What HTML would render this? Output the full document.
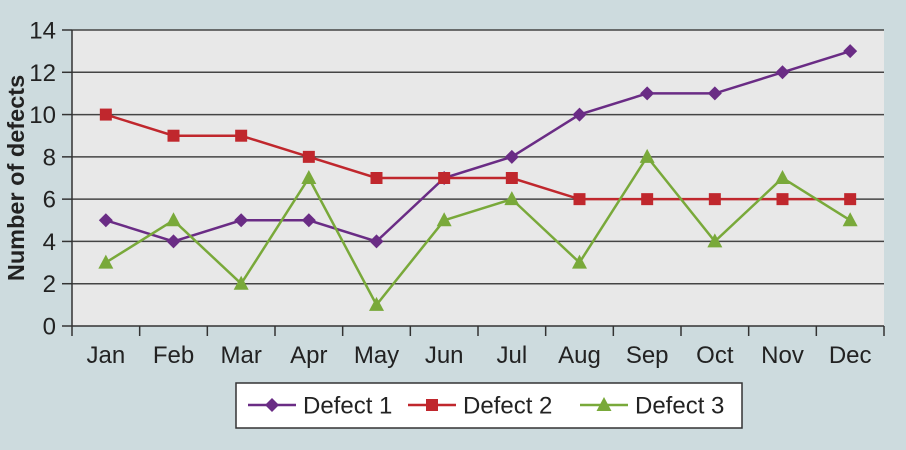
<!DOCTYPE html>
<html><head><meta charset="utf-8"><style>
html,body{margin:0;padding:0;background:#cddbde;}
svg{display:block;font-family:"Liberation Sans",sans-serif;}
</style></head><body>
<svg id="chart" width="906" height="450">
<rect x="0" y="0" width="906" height="450" fill="#cddbde"/>
<rect x="72" y="30" width="812" height="296" fill="#e8e8e8"/>
<g id="grid"></g><g id="axes"></g><g id="series"></g>
<text x="24" y="178" transform="rotate(-90 24 178)" text-anchor="middle" font-size="23.5" font-weight="bold" fill="#222">Number of defects</text>
<g>
<rect x="236" y="383" width="506" height="45" fill="#fff" stroke="#333" stroke-width="1.5"/>
</g>
<g id="legend"></g>
</svg>
<script>
const months=["Jan","Feb","Mar","Apr","May","Jun","Jul","Aug","Sep","Oct","Nov","Dec"];
const defect1=[5,4,5,5,4,7,8,10,11,11,12,13];
const defect2=[10,9,9,8,7,7,7,6,6,6,6,6];
const defect3=[3,5,2,7,1,5,6,3,8,4,7,5];
const yTicks=[0,2,4,6,8,10,12,14];
const seriesNames=["Defect 1","Defect 2","Defect 3"];
const NS="http://www.w3.org/2000/svg";
const L=72,R=884,T=30,B=326,yMax=14;
const bw=(R-L)/months.length;
const x=i=>L+bw*(i+0.5);
const y=v=>B-(B-T)*v/yMax;
function mk(tag,attrs,parent){const e=document.createElementNS(NS,tag);for(const k in attrs)e.setAttribute(k,attrs[k]);parent.appendChild(e);return e;}
const grid=document.getElementById('grid'),axes=document.getElementById('axes'),ser=document.getElementById('series'),leg=document.getElementById('legend');
yTicks.forEach(v=>{
 if(v>0){const g=mk('line',{x1:L,x2:R,y1:y(v),y2:y(v),stroke:'#444','stroke-width':1.5},grid);
 
 }
 const t=mk('line',{x1:62,x2:L,y1:y(v),y2:y(v),stroke:'#333','stroke-width':1.5},axes);
 
 
 const lb=mk('text',{x:56,y:y(v)+8.5,'text-anchor':'end','font-size':24,fill:'#222'},axes);lb.textContent=v;
 
 
});
const ya=mk('line',{x1:L,x2:L,y1:T,y2:B,stroke:'#333','stroke-width':1.5},axes);


const xa=mk('line',{x1:L,x2:R,y1:B,y2:B,stroke:'#333','stroke-width':1.5},axes);


for(let i=0;i<=months.length;i++){const t=mk('line',{x1:L+bw*i,x2:L+bw*i,y1:B,y2:B+10,stroke:'#333','stroke-width':1.5},axes);
 
 }
months.forEach((m,i)=>{const t=mk('text',{x:x(i),y:363,'text-anchor':'middle','font-size':24,fill:'#222'},axes);t.textContent=m;
 
 });
function marker(kind,cx,cy,color,parent){
 if(kind==='d')return mk('polygon',{points:`${cx},${cy-7} ${cx+7},${cy} ${cx},${cy+7} ${cx-7},${cy}`,fill:color},parent);
 if(kind==='s')return mk('rect',{x:cx-6,y:cy-6,width:12,height:12,fill:color},parent);
 return mk('polygon',{points:`${cx},${cy-8} ${cx+7.5},${cy+6} ${cx-7.5},${cy+6}`,fill:color},parent);
}
const all=[[defect1,'#6a2c85','d'],[defect2,'#c0272d','s'],[defect3,'#79a93a','t']];
all.forEach(([d,c,k],si)=>{
 const g=mk('g',{},ser);
 
 
 const p=mk('polyline',{points:d.map((v,i)=>x(i)+','+y(v)).join(' '),fill:'none',stroke:c,'stroke-width':2.5},g);
 
 
 d.forEach((v,i)=>{const m=marker(k,x(i),y(v),c,g);
  
  });
 const lx=[248,408,580][si],ly=405;
 const lg=mk('g',{},leg);
 
 
 mk('line',{x1:lx,x2:lx+48,y1:ly,y2:ly,stroke:c,'stroke-width':2.5},lg);
 marker(k,lx+24,ly,c,lg);
 const t=mk('text',{x:lx+55,y:ly+8.5,'font-size':24,fill:'#222'},lg);t.textContent=seriesNames[si];
});
</script>
</body></html>
